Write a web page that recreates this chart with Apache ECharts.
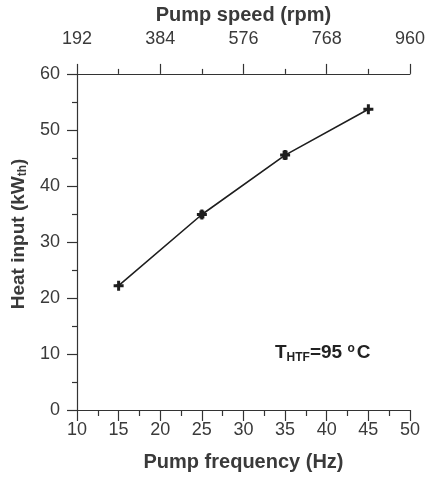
<!DOCTYPE html>
<html>
<head>
<meta charset="utf-8">
<script src="https://cdn.jsdelivr.net/npm/echarts@6/dist/echarts.min.js"></script>
<style>
  html, body { margin: 0; padding: 0; background: #fff; }
  #chart { width: 428px; height: 477px; }
</style>
</head>
<body>
<div id="chart"></div>
<script>
// measured values
const frequencyHz = [15, 25, 35, 45]
const heatInput = [22.2, 34.9, 45.5, 53.7]
const heatError = [0.2, 0.7, 0.8, 0.2]
const speedTicks = [192, 960, 192]   // min, max, interval of the top axis

const axisColor = '#333'
const textColor = '#3a3a3a'
const font = 'Liberation Sans'

const chart = echarts.init(document.getElementById('chart'))

const plusPath = 'path://M3.5,0 L6.5,0 L6.5,3.5 L10,3.5 L10,6.5 L6.5,6.5 L6.5,10 L3.5,10 L3.5,6.5 L0,6.5 L0,3.5 L3.5,3.5 Z'

const tickStyle = { color: axisColor, width: 1.2 }

const option = {
  animation: false,
  grid: { left: 77, right: 13, top: 72, bottom: 67 },
  xAxis: [
    {
      type: 'value',
      position: 'bottom',
      min: 10,
      max: 50,
      interval: 5,
      name: 'Pump frequency (Hz)',
      nameLocation: 'middle',
      nameGap: 42,
      nameTextStyle: { fontFamily: font, fontSize: 20, fontWeight: 'bold', color: textColor },
      axisLine: { show: true, lineStyle: { color: axisColor, width: 1.2 } },
      axisTick: { show: true, inside: false, length: 11, lineStyle: tickStyle },
      minorTick: { show: true, splitNumber: 2, length: 6, lineStyle: tickStyle },
      axisLabel: { fontFamily: font, fontSize: 18, color: textColor, margin: 11 },
      splitLine: { show: false }
    },
    {
      type: 'value',
      position: 'top',
      min: speedTicks[0],
      max: speedTicks[1],
      interval: speedTicks[2],
      name: 'Pump speed (rpm)',
      nameLocation: 'middle',
      nameGap: 47,
      nameTextStyle: { fontFamily: font, fontSize: 20, fontWeight: 'bold', color: textColor },
      axisLine: { show: true, lineStyle: { color: axisColor, width: 1.2 } },
      axisTick: { show: true, inside: false, length: 10, lineStyle: tickStyle },
      minorTick: { show: true, splitNumber: 2, length: 5, lineStyle: tickStyle },
      axisLabel: { fontFamily: font, fontSize: 18, color: textColor, margin: 26 },
      splitLine: { show: false }
    }
  ],
  yAxis: {
    type: 'value',
    min: 0,
    max: 60,
    interval: 10,
    name: '{n|Heat input (kW}{s|th}{n|)}',
    nameLocation: 'middle',
    nameGap: 46,
    nameTextStyle: {
      padding: [0, 0, 0, 16],
      rich: {
        n: { fontFamily: font, fontSize: 19, fontWeight: 'bold', color: textColor },
        s: { fontFamily: font, fontSize: 12, fontWeight: 'bold', color: textColor, padding: [9, 0, 0, 0] }
      }
    },
    axisLine: { show: true, lineStyle: { color: axisColor, width: 1.2 } },
    axisTick: { show: true, inside: false, length: 10, lineStyle: tickStyle },
    minorTick: { show: true, splitNumber: 2, length: 5, lineStyle: tickStyle },
    axisLabel: { fontFamily: font, fontSize: 18, color: textColor, margin: 17 },
    splitLine: { show: false }
  },
  series: [
    {
      type: 'line',
      data: frequencyHz.map((f, i) => [f, heatInput[i]]),
      symbol: plusPath,
      symbolSize: 10,
      lineStyle: { color: '#1e1e1e', width: 1.6 },
      itemStyle: { color: '#1e1e1e' },
      z: 3
    },
    {
      type: 'custom',
      data: frequencyHz.map((f, i) => [f, heatInput[i] - heatError[i], heatInput[i] + heatError[i]]),
      renderItem: (params, api) => {
        const lo = api.coord([api.value(0), api.value(1)])
        const hi = api.coord([api.value(0), api.value(2)])
        const w = 2.5
        return {
          type: 'rect',
          shape: { x: lo[0] - w, y: hi[1], width: 2 * w, height: lo[1] - hi[1] },
          style: { fill: '#1e1e1e' }
        }
      },
      z: 4
    }
  ],
  graphic: [
    {
      type: 'text',
      left: 275,
      top: 343,
      style: {
        text: '{b|T}{s|HTF}{b|=95 }{o|o}{b|C}',
        rich: {
          b: { fontFamily: font, fontSize: 19, fontWeight: 'bold', fill: '#222' },
          s: { fontFamily: font, fontSize: 12, fontWeight: 'bold', fill: '#222', padding: [9, 0, 0, 0] },
          o: { fontFamily: font, fontSize: 12, fontWeight: 'bold', fill: '#222', padding: [0, 2, 8, 0] }
        }
      }
    }
  ]
}

chart.setOption(option)
</script>
</body>
</html>
